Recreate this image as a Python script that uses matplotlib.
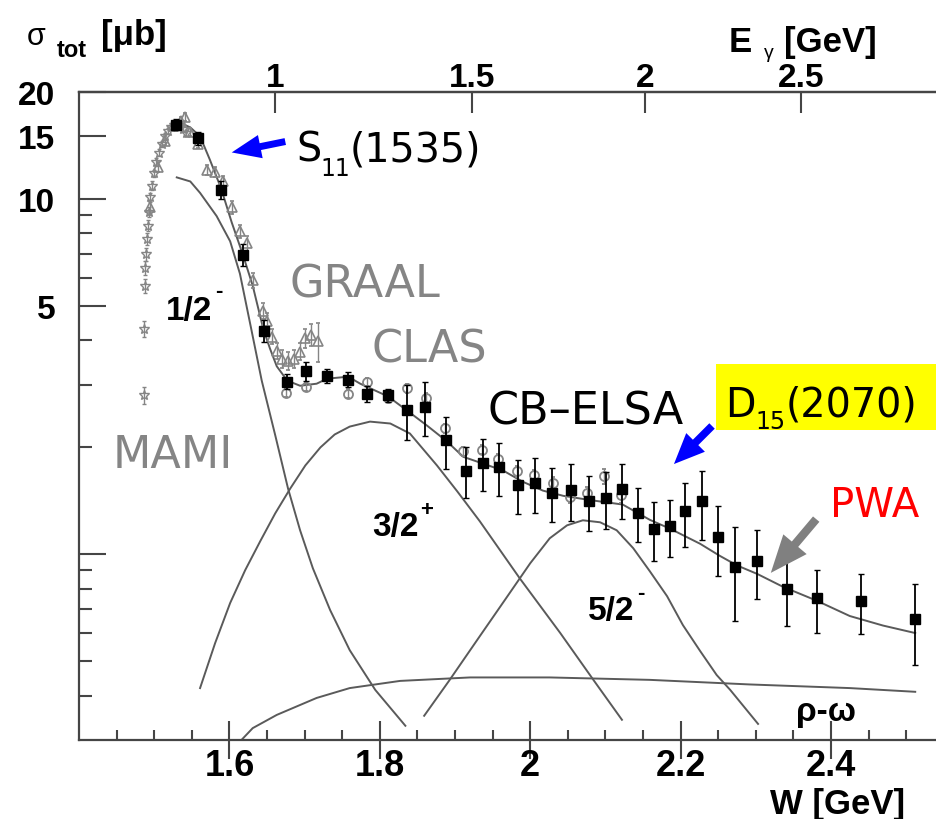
import numpy as np
import matplotlib
matplotlib.use("Agg")
import matplotlib.pyplot as plt
from matplotlib.patches import FancyArrowPatch, Rectangle
from matplotlib.ticker import FixedLocator, FixedFormatter, NullLocator, NullFormatter

# ---------------- data ----------------
# CB-ELSA total cross section (black squares)
W_ELSA = [1.529, 1.558, 1.589, 1.618, 1.6465, 1.677, 1.702, 1.730, 1.758, 1.783,
          1.811, 1.836, 1.860, 1.888, 1.915, 1.937, 1.959, 1.984, 2.006, 2.029,
          2.054, 2.078, 2.101, 2.122, 2.143, 2.165, 2.186, 2.206, 2.228, 2.250,
          2.272, 2.302, 2.341, 2.381, 2.440, 2.512]
S_ELSA = [16.2, 14.8, 10.6, 6.96, 4.26, 3.06, 3.27, 3.18, 3.10, 2.83,
          2.80, 2.55, 2.60, 2.09, 1.72, 1.81, 1.76, 1.57, 1.59, 1.49,
          1.52, 1.41, 1.44, 1.53, 1.31, 1.18, 1.20, 1.32, 1.41, 1.12,
          0.92, 0.96, 0.80, 0.752, 0.738, 0.657]
E_ELSA = [0.6, 0.6, 0.6, 0.5, 0.3, 0.15, 0.2, 0.15, 0.15, 0.15,
          0.12, 0.45, 0.45, 0.35, 0.28, 0.30, 0.30, 0.27, 0.28, 0.26,
          0.28, 0.25, 0.26, 0.27, 0.23, 0.22, 0.22, 0.27, 0.31, 0.25,
          0.27, 0.21, 0.17, 0.15, 0.14, 0.17]

# CLAS (open grey circles)
W_CLAS = [1.675, 1.702, 1.758, 1.783, 1.811, 1.836, 1.861, 1.887, 1.911, 1.936,
          1.957, 1.982, 2.005, 2.030, 2.053, 2.076, 2.098, 2.121]
S_CLAS = [2.85, 2.96, 2.83, 3.06, 2.76, 2.93, 2.76, 2.26, 1.95, 1.97,
          1.85, 1.71, 1.67, 1.59, 1.45, 1.49, 1.66, 1.47]
E_CLAS = [0.08, 0.08, 0.08, 0.08, 0.08, 0.08, 0.08, 0.07, 0.06, 0.06,
          0.06, 0.06, 0.06, 0.06, 0.06, 0.06, 0.08, 0.08]

# GRAAL (open grey triangles)
W_GRAAL = [1.495, 1.505, 1.515, 1.525, 1.535, 1.541, 1.548, 1.558, 1.570, 1.581,
           1.592, 1.603, 1.614, 1.623, 1.631, 1.645, 1.650, 1.657, 1.663, 1.670,
           1.678, 1.686, 1.694, 1.701, 1.708, 1.718]
S_GRAAL = [9.5, 12.3, 14.6, 16.0, 16.6, 17.0, 15.4, 14.3, 12.1, 11.9,
           11.2, 9.5, 8.1, 7.5, 5.9, 4.85, 4.52, 4.10, 3.74, 3.55,
           3.50, 3.55, 3.72, 4.05, 4.15, 3.97]
E_GRAAL = [0.4, 0.4, 0.4, 0.4, 0.4, 0.4, 0.4, 0.4, 0.4, 0.4,
           0.4, 0.4, 0.35, 0.35, 0.3, 0.25, 0.25, 0.2, 0.2, 0.2,
           0.2, 0.2, 0.2, 0.25, 0.3, 0.5]

# MAMI (open grey stars)
W_MAMI = [1.4865, 1.4870, 1.4875, 1.4880, 1.4890, 1.4900, 1.4915, 1.4930, 1.4950,
          1.4970, 1.5000, 1.5030, 1.5060, 1.5100, 1.5140, 1.5180, 1.5220, 1.5260,
          1.5300, 1.5340, 1.5380, 1.5420]
S_MAMI = [2.8, 4.3, 5.7, 6.4, 7.0, 7.7, 8.4, 9.2, 10.1,
          10.9, 11.8, 12.7, 13.5, 14.3, 15.0, 15.5, 15.9, 16.1,
          16.2, 16.0, 15.7, 15.3]
E_MAMI = [0.15, 0.22, 0.26, 0.3, 0.3, 0.3, 0.3, 0.3, 0.3,
          0.3, 0.3, 0.3, 0.3, 0.3, 0.3, 0.3, 0.3, 0.3,
          0.3, 0.3, 0.3, 0.3]

# PWA total
W_PWA = [1.534, 1.548, 1.561, 1.574, 1.589, 1.603, 1.618, 1.631, 1.645, 1.654,
         1.663, 1.677, 1.694, 1.716, 1.730, 1.758, 1.774, 1.811, 1.836, 1.863,
         1.889, 1.911, 1.937, 1.964, 1.990, 2.017, 2.044, 2.080, 2.123, 2.159,
         2.186, 2.226, 2.252, 2.275, 2.302, 2.336, 2.381, 2.425, 2.469, 2.512]
S_PWA = [16.4, 15.9, 15.0, 12.9, 10.7, 8.6, 6.96, 5.7, 4.31, 3.79,
         3.38, 3.08, 2.98, 3.02, 3.12, 3.16, 3.02, 2.78, 2.54, 2.30,
         2.08, 1.88, 1.80, 1.72, 1.60, 1.51, 1.46, 1.42, 1.38, 1.25,
         1.18, 1.07, 0.99, 0.93, 0.88, 0.81, 0.74, 0.67, 0.63, 0.60]

# partial waves
W_S11 = [1.530, 1.548, 1.561, 1.583, 1.601, 1.614, 1.629, 1.643, 1.661, 1.678,
         1.694, 1.711, 1.734, 1.760, 1.794, 1.834]
S_S11 = [11.5, 11.2, 10.4, 8.95, 7.6, 6.16, 4.31, 3.08, 2.16, 1.53,
         1.168, 0.913, 0.696, 0.537, 0.415, 0.329]

W_P13 = [1.561, 1.581, 1.601, 1.621, 1.641, 1.661, 1.681, 1.701, 1.721, 1.740,
         1.760, 1.787, 1.814, 1.840, 1.876, 1.903, 1.933, 1.986, 2.040, 2.085, 2.122]
S_P13 = [0.420, 0.562, 0.729, 0.902, 1.088, 1.304, 1.532, 1.778, 1.998, 2.173,
         2.287, 2.362, 2.333, 2.187, 1.778, 1.503, 1.238, 0.856, 0.600, 0.440, 0.342]

W_D15 = [1.859, 1.892, 1.933, 1.967, 2.000, 2.026, 2.049, 2.070, 2.093, 2.115,
         2.137, 2.159, 2.182, 2.203, 2.226, 2.248, 2.266, 2.303]
S_D15 = [0.351, 0.440, 0.588, 0.747, 0.943, 1.109, 1.206, 1.246, 1.230, 1.168,
         1.04, 0.896, 0.762, 0.632, 0.534, 0.457, 0.415, 0.333]

W_RHO = [1.616, 1.631, 1.663, 1.716, 1.760, 1.827, 1.920, 2.026, 2.159, 2.292, 2.425, 2.512]
S_RHO = [0.30, 0.324, 0.353, 0.394, 0.42, 0.44, 0.45, 0.45, 0.443, 0.43, 0.42, 0.41]

W_TICKS = [1.6, 1.8, 2.0, 2.2, 2.4]
W_TICKLABELS = ["1.6", "1.8", "2", "2.2", "2.4"]
EG_TICKS = [1.0, 1.5, 2.0, 2.5]
EG_TICKLABELS = ["1", "1.5", "2", "2.5"]
Y_MAJOR = [1, 5, 10, 15, 20]
Y_MAJORLABELS = ["", "5", "10", "15", "20"]
Y_MINOR = [0.4, 0.5, 0.6, 0.7, 0.8, 0.9, 2, 3, 4, 6, 7, 8, 9]

# ---------------- figure ----------------
FW, FH = 936, 820
fig = plt.figure(figsize=(FW / 100, FH / 100), dpi=100)
fig.patch.set_facecolor("white")
ROOTF = "Liberation Sans"
ANNF = "DejaVu Sans"
AXC = "#454545"
GREY = "#858585"
LINEC = "#5a5a5a"

ax = fig.add_axes([79 / FW, 79 / FH, 857 / FW, 648 / FH])
ax.set_yscale("log")
ax.set_xlim(1.4, 1.4 + 857 / 752)
ax.set_ylim(0.3, 20)
for s in ["left", "bottom", "top"]:
    ax.spines[s].set_color(AXC)
    ax.spines[s].set_linewidth(1.6)
ax.spines["right"].set_visible(False)

ax.xaxis.set_major_locator(FixedLocator(W_TICKS))
ax.xaxis.set_major_formatter(FixedFormatter(W_TICKLABELS))
ax.xaxis.set_minor_locator(FixedLocator(np.round(np.arange(1.45, 2.54, 0.05), 3)))
ax.yaxis.set_major_locator(FixedLocator(Y_MAJOR))
ax.yaxis.set_major_formatter(FixedFormatter(Y_MAJORLABELS))
ax.yaxis.set_minor_locator(FixedLocator(Y_MINOR))
ax.yaxis.set_minor_formatter(NullFormatter())

ax.tick_params(axis="x", which="major", direction="inout", length=27, width=1.5,
               color=AXC, labelsize=26, pad=-8, top=False)
ax.tick_params(axis="x", which="minor", direction="in", length=7.5, width=1.5,
               color=AXC, top=False)
ax.tick_params(axis="y", which="major", direction="in", length=19.5, width=1.5,
               color=AXC, labelsize=24, pad=17, right=False)
ax.tick_params(axis="y", which="minor", direction="in", length=9.5, width=1.5,
               color=AXC, right=False)
for lab in ax.get_xticklabels() + ax.get_yticklabels():
    lab.set_fontfamily(ROOTF)
    lab.set_fontweight("bold")

MP = 0.938272


def w2e(w):
    w = np.asarray(w, dtype=float)
    return (w ** 2 - MP ** 2) / (2 * MP)


def e2w(e):
    e = np.asarray(e, dtype=float)
    with np.errstate(invalid="ignore"):
        return np.sqrt(np.clip(MP ** 2 + 2 * MP * e, 0, None))


sec = ax.secondary_xaxis("top", functions=(w2e, e2w))
sec.set_xticks(EG_TICKS)
sec.set_xticklabels(EG_TICKLABELS)
sec.xaxis.set_minor_locator(NullLocator())
sec.tick_params(axis="x", direction="in", length=15, width=1.5, color=AXC,
                labelsize=24, pad=-1)
sec.spines["top"].set_color(AXC)
sec.spines["top"].set_linewidth(1.6)
for lab in sec.get_xticklabels():
    lab.set_fontfamily(ROOTF)
    lab.set_fontweight("bold")

# curves
for W, S in [(W_PWA, S_PWA), (W_S11, S_S11), (W_P13, S_P13), (W_D15, S_D15), (W_RHO, S_RHO)]:
    ax.plot(W, S, color=LINEC, lw=1.4, zorder=2)

# data
ax.errorbar(W_MAMI, S_MAMI, yerr=E_MAMI, fmt="*", ms=7, mfc="none", mec=GREY, mew=1.0,
            ecolor=GREY, elinewidth=1.0, capsize=1.5, zorder=3)
ax.errorbar(W_GRAAL, S_GRAAL, yerr=E_GRAAL, fmt="^", ms=6.5, mfc="none", mec=GREY, mew=1.2,
            ecolor=GREY, elinewidth=1.0, capsize=1.5, zorder=3)
ax.errorbar(W_CLAS, S_CLAS, yerr=E_CLAS, fmt="o", ms=6.5, mfc="none", mec=GREY, mew=1.3,
            ecolor=GREY, elinewidth=1.0, capsize=1.5, zorder=3)
ax.errorbar(W_ELSA, S_ELSA, yerr=E_ELSA, fmt="s", ms=6.5, color="black",
            ecolor="black", elinewidth=1.3, capsize=2, zorder=4)


# ---------------- texts ----------------
def ftext(x, y, s, **kw):
    kw.setdefault("va", "baseline")
    return fig.text(x / FW, 1 - y / FH, s, **kw)


def fp(x, y):
    return (x / FW, 1 - y / FH)


# axis titles (ROOT style)
ftext(27, 45, "σ", family=ROOTF, fontsize=22, color="black")
ftext(57, 57, "tot", family=ROOTF, fontsize=17, fontweight="bold")
ftext(101, 45, "[μb]", family=ROOTF, fontsize=25, fontweight="bold")
ftext(729, 52, "E", family=ROOTF, fontsize=25, fontweight="bold")
ftext(764, 58, "γ", family=ROOTF, fontsize=14)
ftext(784, 52, "[GeV]", family=ROOTF, fontsize=25, fontweight="bold")
ftext(905, 814, "W [GeV]", family=ROOTF, fontsize=25, fontweight="bold", ha="right")

# partial-wave labels
ftext(166, 320, "1/2", family=ROOTF, fontsize=24, fontweight="bold")
ftext(215, 297, "-", family=ROOTF, fontsize=16, fontweight="bold")
ftext(372, 536, "3/2", family=ROOTF, fontsize=24, fontweight="bold")
ftext(420, 516, "+", family=ROOTF, fontsize=16, fontweight="bold")
ftext(588, 620, "5/2", family=ROOTF, fontsize=24, fontweight="bold")
ftext(637, 599, "-", family=ROOTF, fontsize=16, fontweight="bold")
ftext(796, 721, "ρ-ω", family=ROOTF, fontsize=24, fontweight="bold")

# experiment labels
ftext(290, 297, "GRAAL", family=ANNF, fontsize=32, color=GREY)
ftext(372, 363, "CLAS", family=ANNF, fontsize=32, color=GREY)
ftext(113, 468, "MAMI", family=ANNF, fontsize=32, color=GREY)
ftext(487, 425, "CB–ELSA", family=ANNF, fontsize=32, color="black")
ftext(830, 517, "PWA", family=ANNF, fontsize=29, color="#ff0000")

# S11(1535)
ftext(296, 162, "S", family=ANNF, fontsize=28.5)
ftext(320, 176, "11", family=ANNF, fontsize=17)
ftext(350, 162, "(1535)", family=ANNF, fontsize=28.5)

# D15(2070) on yellow
fig.add_artist(Rectangle(fp(716, 431), 220 / FW, 66 / FH, transform=fig.transFigure,
                         facecolor="#ffff00", edgecolor="none", zorder=5))
ftext(725, 417, "D", family=ANNF, fontsize=28.5, zorder=6)
ftext(755, 429, "15", family=ANNF, fontsize=17, zorder=6)
ftext(786, 417, "(2070)", family=ANNF, fontsize=28.5, zorder=6)


# arrows
def arrow(tail, tip, color, tw, hw, hl):
    a = FancyArrowPatch(fp(*tail), fp(*tip), transform=fig.transFigure,
                        arrowstyle=f"simple,tail_width={tw},head_width={hw},head_length={hl}",
                        mutation_scale=10, color=color, lw=0, zorder=6)
    fig.add_artist(a)


arrow((288, 142), (229, 154), "#0000ff", 0.5, 1.7, 2.1)
arrow((714, 425), (672, 467), "#0000ff", 0.55, 1.9, 2.2)
arrow((818, 518), (769, 576), "#808080", 0.6, 2.2, 2.7)

fig.savefig("out.png", dpi=100, facecolor="white")
